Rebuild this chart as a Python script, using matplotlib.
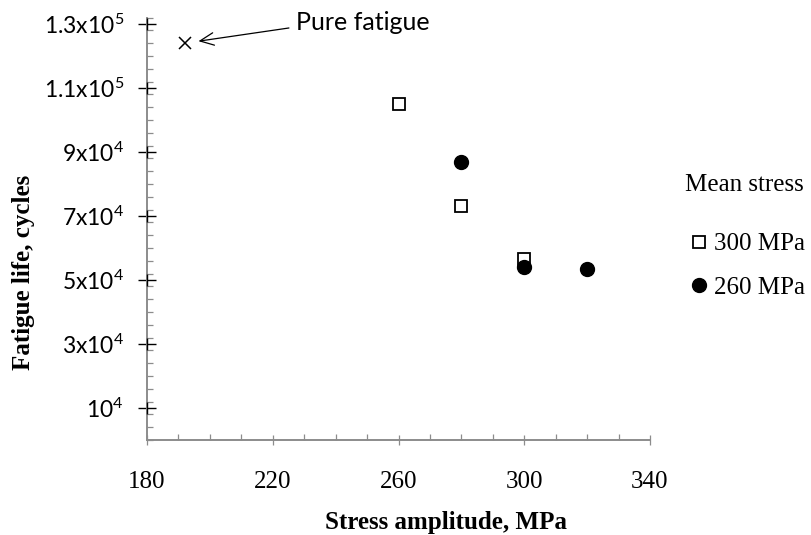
import matplotlib
matplotlib.use('Agg')
import matplotlib.pyplot as plt
from matplotlib.ticker import MultipleLocator

# ---- data ----
stress_300 = [260, 280, 300]
life_300 = [105000, 73000, 56500]
stress_260 = [280, 300, 320]
life_260 = [87000, 54000, 53500]
pure_stress = [192]
pure_life = [124000]
x_ticks = [180, 220, 260, 300, 340]
y_ticks = [10000, 30000, 50000, 70000, 90000, 110000, 130000]
y_tick_labels = ['10$^4$', '3x10$^4$', '5x10$^4$', '7x10$^4$', '9x10$^4$',
                 '1.1x10$^5$', '1.3x10$^5$']
legend_labels = ['300 MPa', '260 MPa']

plt.rcParams['mathtext.fontset'] = 'custom'
plt.rcParams['mathtext.rm'] = 'Lato'
plt.rcParams['mathtext.it'] = 'Lato:italic'
plt.rcParams['mathtext.bf'] = 'Lato:bold'

SERIF = 'Liberation Serif'
SANS = 'Lato'
GRAY = '#8c8c8c'
W, H = 812, 535

fig = plt.figure(figsize=(W / 100, H / 100), dpi=100)
ax = fig.add_axes([147 / W, 95 / H, 503 / W, 422.4 / H])
ax.set_xlim(180, 340)
ax.set_ylim(0, 132000)

for s in ['top', 'right']:
    ax.spines[s].set_visible(False)
for s in ['left', 'bottom']:
    ax.spines[s].set_color(GRAY)
    ax.spines[s].set_linewidth(1.4)

ax.set_xticks(x_ticks)
ax.xaxis.set_minor_locator(MultipleLocator(10))
ax.tick_params(axis='x', which='major', direction='inout', length=6.5, width=0.9,
               color=GRAY, labelsize=18, pad=19)
ax.tick_params(axis='x', which='minor', direction='in', length=4, width=0.9, color=GRAY)
for lbl in ax.get_xticklabels():
    lbl.set_fontfamily(SERIF)

ax.set_yticks(y_ticks, labels=y_tick_labels)
ax.yaxis.set_minor_locator(MultipleLocator(4000))
ax.tick_params(axis='y', which='major', direction='inout', length=13, width=1.0,
               color='black', labelsize=16.5, pad=10)
ax.tick_params(axis='y', which='minor', direction='in', length=4, width=0.9, color=GRAY)
for lbl in ax.get_yticklabels():
    lbl.set_fontfamily(SANS)

# vertical arm of the "+" markers on the y axis
ax.plot([x_ticks[0]] * len(y_ticks), y_ticks, linestyle='none', marker='|',
        markersize=8.6, mew=1.0, color='black', clip_on=False, zorder=5)

h1, = ax.plot(stress_300, life_300, linestyle='none', marker='s', ms=8.8,
              mfc='white', mec='black', mew=1.3, zorder=6)
h2, = ax.plot(stress_260, life_260, linestyle='none', marker='o', ms=10,
              color='black', zorder=7)
ax.plot(pure_stress, pure_life, linestyle='none', marker='x', ms=9, mew=1.1,
        color='black', zorder=6)

ax.annotate('Pure fatigue', xy=(pure_stress[0], pure_life[0]), xytext=(80, 15),
            textcoords='offset points', ha='left', va='center',
            fontfamily=SANS, fontsize=18,
            arrowprops=dict(arrowstyle='->,head_length=0.55,head_width=0.25',
                            color='black', lw=0.9, shrinkA=3, shrinkB=10,
                            relpos=(0, 0.3)))

fig.text(24 / W, 1 - 272 / H, 'Fatigue life, cycles', rotation=90,
         fontfamily=SERIF, fontweight='bold', fontsize=18, ha='center', va='center')
fig.text(325 / W, 1 - 522 / H, 'Stress amplitude, MPa', fontfamily=SERIF,
         fontweight='bold', fontsize=18, ha='left', va='center')

fig.text(685 / W, 1 - 185 / H, 'Mean stress', fontfamily=SERIF, fontsize=18,
         ha='left', va='center')
fig.legend([h1, h2], legend_labels, loc='upper left',
           bbox_to_anchor=(692 / W, 1 - 233 / H), frameon=False, borderpad=0,
           borderaxespad=0, handlelength=0.6, handletextpad=0.3, labelspacing=0.82,
           prop={'family': SERIF, 'size': 18})

fig.savefig('out.png', dpi=100)
